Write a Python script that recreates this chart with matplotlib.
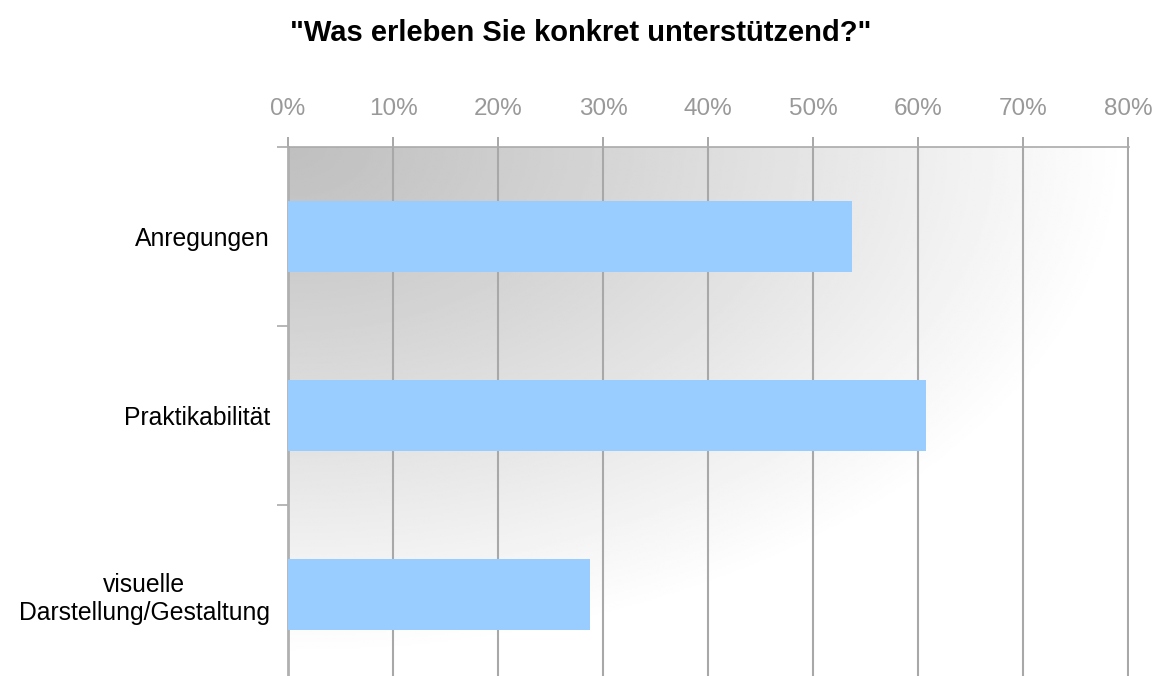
import numpy as np
import matplotlib
matplotlib.use("Agg")
import matplotlib.pyplot as plt
from matplotlib.ticker import FixedLocator

plt.rcParams['font.family'] = ['Liberation Sans', 'DejaVu Sans']

# Survey answers (share of respondents, %)
categories = ["Anregungen", "Praktikabilität", "visuelle\nDarstellung/Gestaltung"]
values = [53.7, 60.7, 28.7]
x_ticks = [0, 10, 20, 30, 40, 50, 60, 70, 80]
x_tick_labels = ["0%", "10%", "20%", "30%", "40%", "50%", "60%", "70%", "80%"]
title = '"Was erleben Sie konkret unterstützend?"'

W, H = 1159, 676
fig = plt.figure(figsize=(W / 100, H / 100), dpi=100)
ax = fig.add_axes([288 / W, -8 / H, (1129 - 288) / W, (684 - 147) / H])

# Radial grey-to-white backdrop, darkest in the top-left corner
gx, gy = np.meshgrid(np.linspace(0, 1, 400), np.linspace(0, 1, 300))
r = np.sqrt((gx / 1.0) ** 2 + (gy / 0.95) ** 2)
shade = 0.75 + 0.25 * np.clip(r, 0, 1) ** 1.1
ax.imshow(shade, cmap="gray", vmin=0, vmax=1, extent=(0, 1, 0, 1),
          transform=ax.transAxes, aspect="auto", zorder=0, interpolation="bilinear")

ypos = np.arange(len(categories))
ax.barh(ypos, values, height=0.4, color="#99CCFF", zorder=3)

ax.set_xlim(0, 80.05)
ax.set_ylim(len(categories) - 0.5, -0.5)

ax.xaxis.tick_top()
ax.set_xticks(x_ticks)
ax.set_xticklabels(x_tick_labels, color="#999999", fontsize=17.5)
ax.tick_params(axis="x", which="major", length=7, width=1.2, color="#999999", pad=12.5)
ax.grid(axis="x", color="#a8a8a8", linewidth=1.5, zorder=1)

# Category boundaries get tick marks; labels sit at the band centres
ax.yaxis.set_major_locator(FixedLocator([-0.5, 0.5, 1.5, 2.5]))
ax.yaxis.set_major_formatter(plt.NullFormatter())
ax.yaxis.set_minor_locator(FixedLocator(ypos))
ax.set_yticklabels(categories, minor=True, fontsize=17.8, multialignment="center")
ax.tick_params(axis="y", which="major", length=8, width=1.2, color="#aaaaaa")
ax.tick_params(axis="y", which="minor", length=0, pad=13)

for side in ("right", "bottom"):
    ax.spines[side].set_visible(False)
ax.spines["left"].set_color("#b0b0b0")
ax.spines["left"].set_linewidth(2)
ax.spines["top"].set_color("#aaaaaa")
ax.spines["top"].set_linewidth(1.2)

fig.text(581 / W, 1 - 33 / H, title, ha="center", va="center",
         fontsize=21, fontweight="bold")

fig.savefig("out.png", dpi=100)
